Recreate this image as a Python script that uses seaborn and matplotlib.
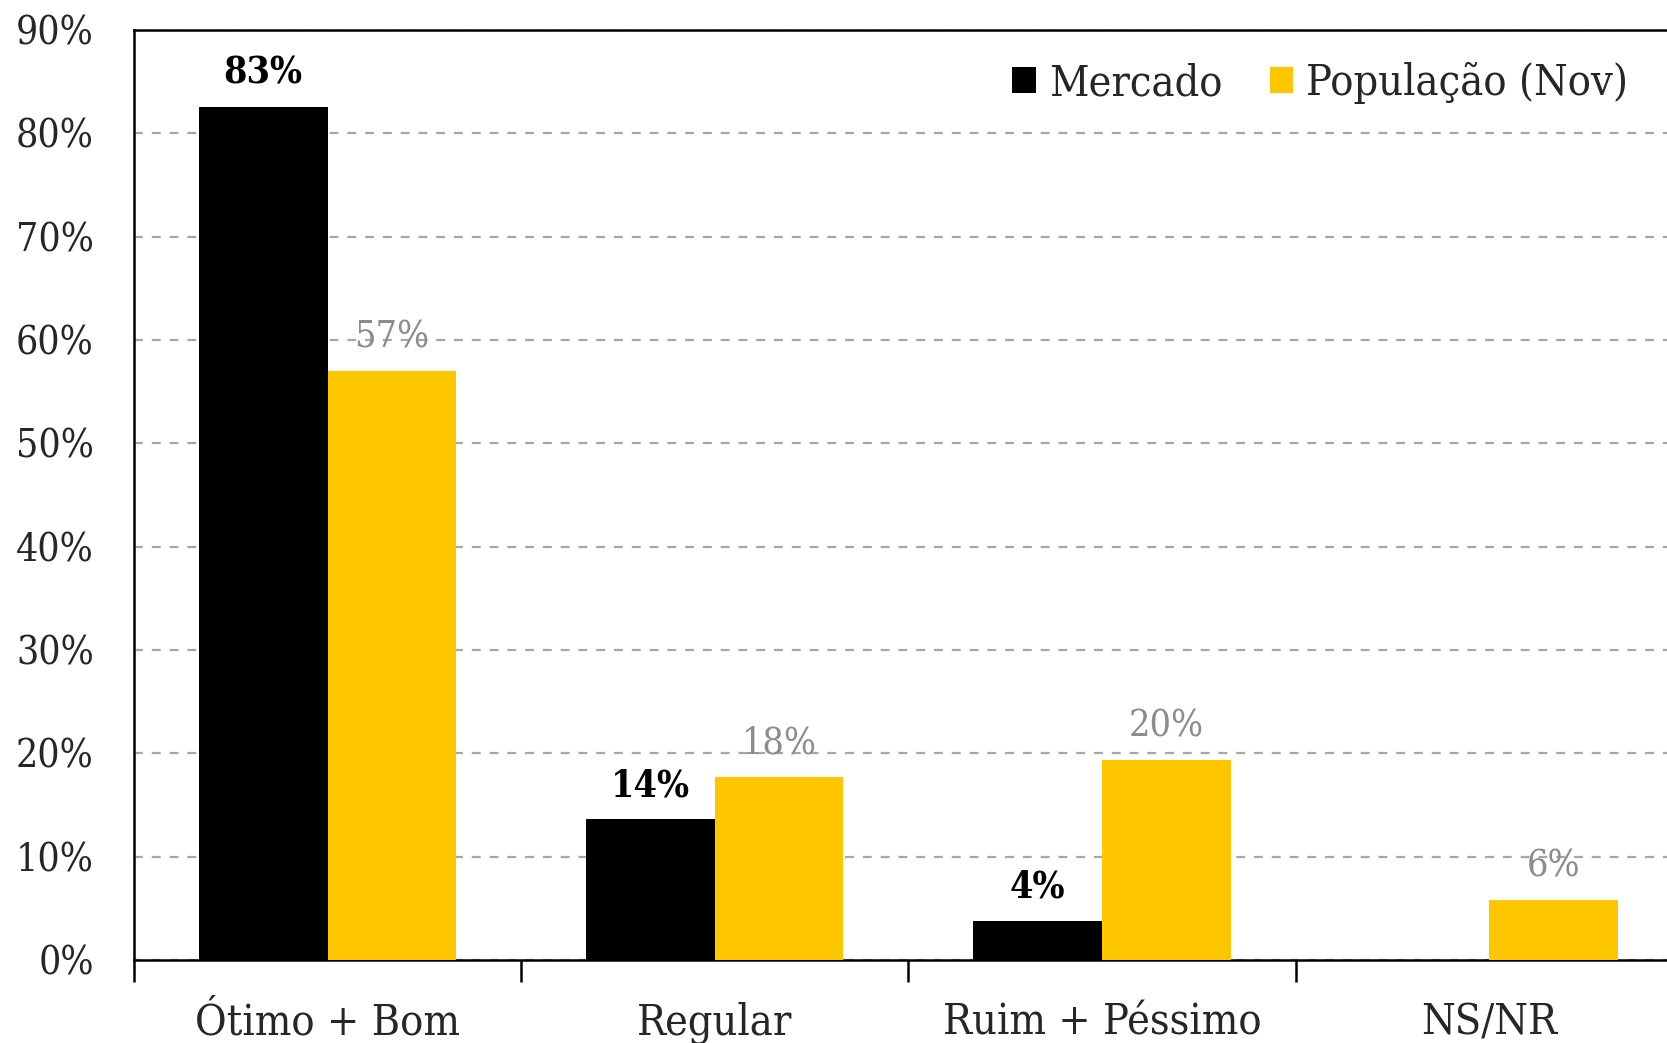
import matplotlib
matplotlib.use('Agg')
import pandas as pd
import seaborn as sns
import matplotlib.pyplot as plt
from matplotlib.ticker import FixedLocator, PercentFormatter

# Chart data
categorias = ["Ótimo + Bom", "Regular", "Ruim + Péssimo", "NS/NR"]
mercado = [82.6, 13.6, 3.8, 0.0]
populacao = [57.0, 17.7, 19.4, 5.8]
rotulos_mercado = ["83%", "14%", "4%", ""]
rotulos_populacao = ["57%", "18%", "20%", "6%"]
series = ["Mercado", "População (Nov)"]
cores = ["#000000", "#FFC700"]

df = pd.DataFrame({
    "categoria": categorias * 2,
    "serie": [series[0]] * 4 + [series[1]] * 4,
    "valor": mercado + populacao,
})

sns.set_style("white")
plt.rcParams['font.family'] = ['DejaVu Serif']

fig = plt.figure(figsize=(16.67, 10.43), dpi=100)
ax = fig.add_axes([0.0804, 0.0796, 0.929, 0.8916])

sns.barplot(data=df, x="categoria", y="valor", hue="serie", palette=cores,
            width=0.665, gap=0, saturation=1, ax=ax, zorder=3, linewidth=0)

# data labels
ax.bar_label(ax.containers[0], labels=rotulos_mercado, padding=11,
             fontsize=27, fontweight="bold", color="black", fontstretch="condensed")
ax.bar_label(ax.containers[1], labels=rotulos_populacao, padding=11,
             fontsize=27, color="#8C8C8C", fontstretch="condensed")

ax.set_xlim(-0.5, 3.5)
ax.set_ylim(0, 90)
ax.yaxis.set_major_locator(FixedLocator(range(0, 91, 10)))
ax.yaxis.set_major_formatter(PercentFormatter(decimals=0))
ax.grid(axis="y", color="#A6A6A6", linestyle=(0, (4, 4)), linewidth=1.6, zorder=0)
ax.set_axisbelow(True)

ax.set_xlabel("")
ax.set_ylabel("")
ax.tick_params(axis="y", left=False, length=0, pad=29, labelsize=28)
ax.tick_params(axis="x", which="major", bottom=True, length=0, pad=30, labelsize=31)
ax.set_xticks([-0.5, 0.5, 1.5, 2.5], minor=True)
ax.tick_params(axis="x", which="minor", bottom=True, length=16, width=1.8,
               direction="out", color="black")
for lab in ax.get_xticklabels() + ax.get_yticklabels():
    lab.set_fontstretch("condensed")

for side in ["left", "bottom", "top"]:
    ax.spines[side].set_visible(True)
    ax.spines[side].set_color("black")
    ax.spines[side].set_linewidth(1.8)
ax.spines["right"].set_visible(False)

leg = ax.legend(loc="upper right", bbox_to_anchor=(0.99, 1.007), frameon=False,
                fontsize=31, handlelength=0.55, handleheight=0.55, handletextpad=0.3,
                columnspacing=1.1, ncol=2)
for t in leg.get_texts():
    t.set_fontstretch("condensed")

fig.savefig("out.png", dpi=100)
print("saved out.png")
